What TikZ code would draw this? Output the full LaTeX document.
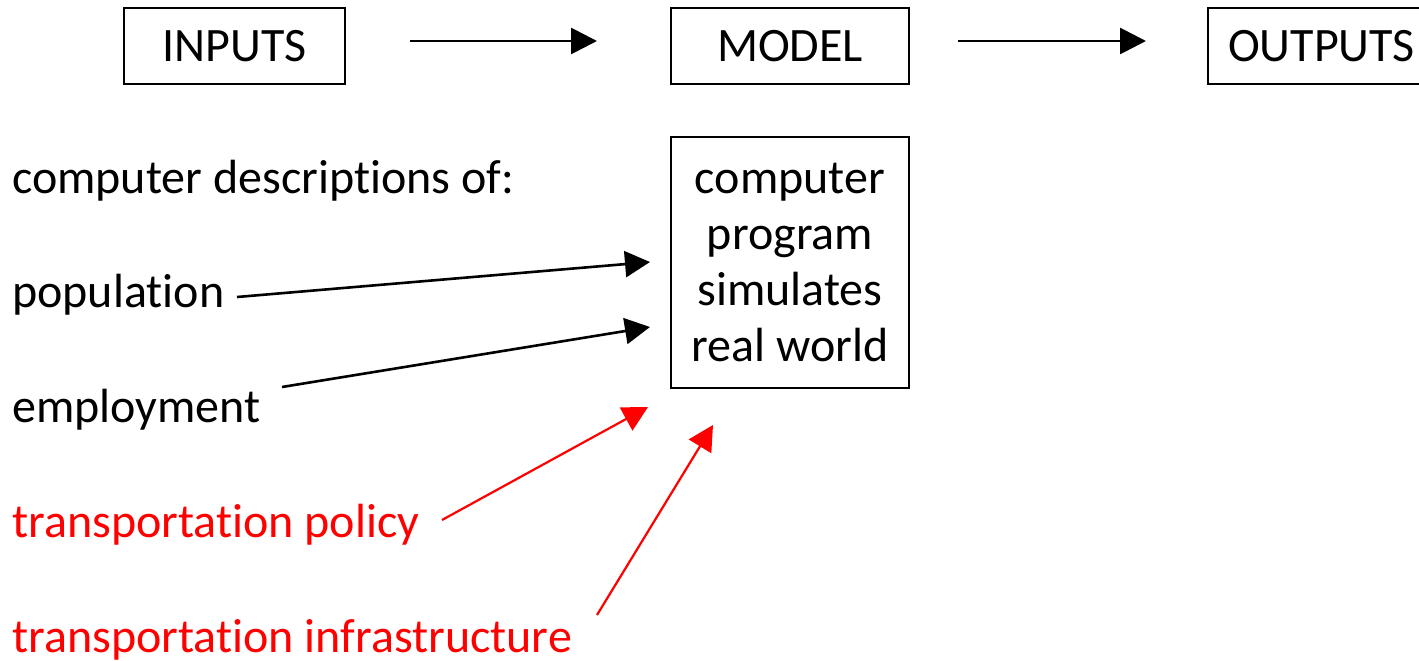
\documentclass[tikz,border=0pt]{standalone}
\usepackage{fontspec}
\setmainfont{Carlito}[Ligatures=NoCommon]
\usetikzlibrary{arrows.meta}
\definecolor{pptred}{RGB}{255,0,0}
\tikzset{
  box/.style={draw=black, line width=1.8pt, inner sep=0pt},
  lbl/.style={anchor=base west, inner sep=0pt, font=\fontsize{48}{56}\selectfont},
  flow/.style={line width=2.8pt, -{Triangle[length=26pt,width=26pt]}},
  feed/.style={line width=2.6pt, -{Triangle[length=25pt,width=26pt]}},
  redfeed/.style={pptred, line width=2.2pt, -{Triangle[length=25pt,width=26pt]}}
}
\begin{document}
\begin{tikzpicture}[x=1pt,y=1pt]
\useasboundingbox (0,0) rectangle (1419,-661);
\clip (0,0) rectangle (1419,-661);

% top row: inputs -> model -> outputs
\node[box, minimum width=221pt, minimum height=76pt] (inputs) at (234.5,-46) {};
\node[lbl, anchor=base] (inputsT) at (234.5,-62) {INPUTS};
\node[box, minimum width=238pt, minimum height=76pt] (model) at (790,-46) {};
\node[lbl, anchor=base] (modelT) at (790,-62) {MODEL};
\node[box, minimum width=240pt, minimum height=76pt] (outputs) at (1328,-46) {};
\node[lbl, anchor=base west] (outputsT) at (1228,-62) {OUTPUTS};

\coordinate (a1s) at (410,-41);
\coordinate (a1e) at (597,-41);
\coordinate (a2s) at (958,-41);
\coordinate (a2e) at (1146,-41);
\draw[flow] (a1s) -- (a1e);
\draw[flow] (a2s) -- (a2e);

% program box
\node[box, minimum width=238pt, minimum height=251pt] (prog) at (790,-262.5) {};
\node[lbl, anchor=base] (l1) at (790,-193) {computer};
\node[lbl, anchor=base] (l2) at (790,-249) {program};
\node[lbl, anchor=base] (l3) at (790,-305) {simulates};
\node[lbl, anchor=base] (l4) at (790,-361) {real world};

% input descriptions
\node[lbl] (desc) at (12,-193) {computer descriptions of:};
\node[lbl] (pop) at (12,-307) {population};
\node[lbl] (emp) at (12,-422) {employment};
\node[lbl, text=pptred] (pol) at (12,-537) {transportation policy};
\node[lbl, text=pptred] (inf) at (12,-652) {transportation infrastructure};

\coordinate (popS) at (237,-297);
\coordinate (popE) at (650,-262);
\coordinate (empS) at (282,-387);
\coordinate (empE) at (650,-327);
\coordinate (polS) at (442,-520);
\coordinate (polE) at (648,-407);
\coordinate (infS) at (597,-615);
\coordinate (infE) at (713,-425);

\draw[feed] (popS) -- (popE);
\draw[feed] (empS) -- (empE);
\draw[redfeed] (polS) -- (polE);
\draw[redfeed] (infS) -- (infE);
\end{tikzpicture}
\end{document}
